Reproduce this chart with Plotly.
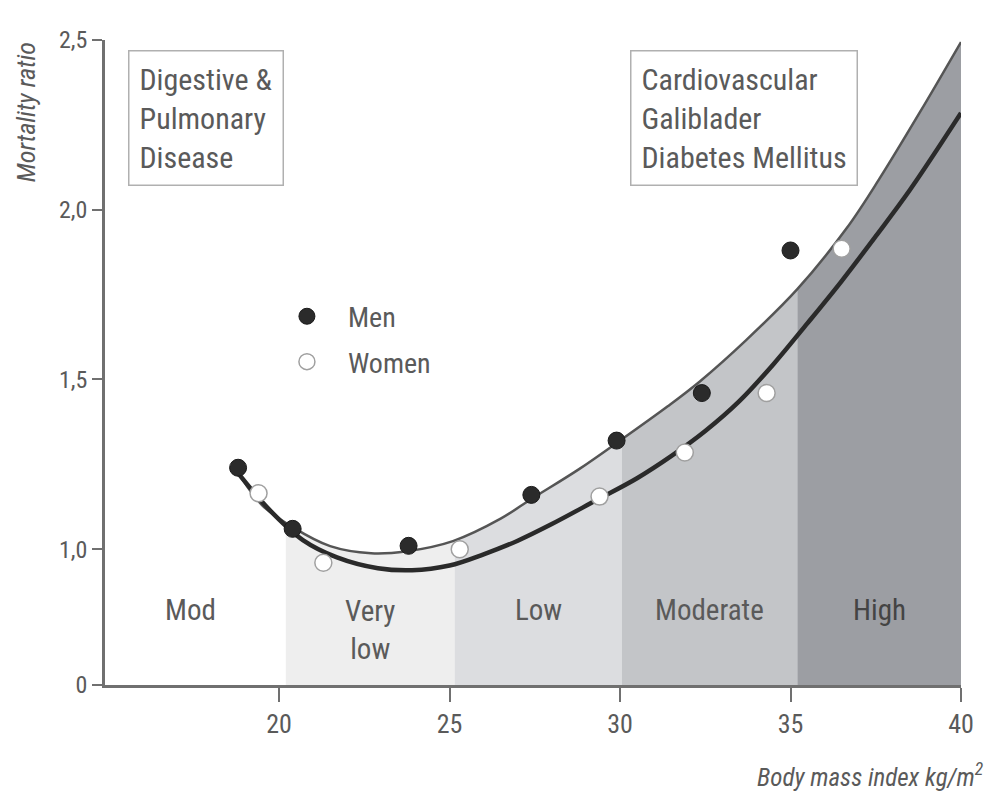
import plotly.graph_objects as go

# ---------------- data ----------------
men_bmi = [18.8, 20.4, 23.8, 27.4, 29.9, 32.4, 35.0]
men_ratio = [1.24, 1.06, 1.01, 1.16, 1.32, 1.46, 1.88]
women_bmi = [19.4, 21.3, 25.3, 29.4, 31.9, 34.3, 36.5]
women_ratio = [1.165, 0.96, 1.00, 1.155, 1.285, 1.46, 1.885]

# fitted curves (upper = men, lower = women)
men_fit_bmi = [18.7, 19.5, 20.4, 21.5, 22.7, 23.75, 25.1, 26.5, 27.4, 28.8,
               30.0, 31.4, 32.35, 33.7, 35.2, 36.65, 37.6, 38.8, 40.0]
men_fit_ratio = [1.242, 1.130, 1.065, 1.009, 0.988, 0.994, 1.024, 1.090, 1.148, 1.236,
                 1.320, 1.421, 1.495, 1.616, 1.766, 1.946, 2.090, 2.288, 2.494]
women_fit_bmi = [18.8, 19.7, 20.7, 21.7, 22.9, 23.9, 25.0, 26.0, 27.0, 28.0, 29.3,
                 30.5, 31.5, 32.5, 33.5, 34.5, 35.5, 36.5, 37.5, 38.5, 40.0]
women_fit_ratio = [1.224, 1.118, 1.027, 0.976, 0.944, 0.938, 0.952, 0.985, 1.025, 1.074, 1.144,
                   1.209, 1.274, 1.348, 1.436, 1.545, 1.666, 1.790, 1.922, 2.058, 2.285]

# risk zones
zone_edges = [20.2, 25.15, 30.05, 35.2, 40.0]
zone_names = ["Very<br>low", "Low", "Moderate", "High"]
zone_colors = ["#eeeeee", "#dcdde0", "#c3c5c8", "#9c9ea3"]
mod_label = "Mod"
mod_label_bmi = 17.4

# axis (the y axis is broken below 1.0: "0" sits at the axis break)
x_tick_vals = [20, 25, 30, 35, 40]
x_tick_text = ["20", "25", "30", "35", "40"]
y_tick_vals = [0.6, 1.0, 1.5, 2.0, 2.5]
y_tick_text = ["0", "1,0", "1,5", "2,0", "2,5"]
x_range = [14.897, 40.0]
y_range = [0.6, 2.5]

FONT = "Liberation Sans Narrow, Roboto Condensed, Arial Narrow, Roboto, sans-serif"
TXT = "#5a5a5a"

fig = go.Figure()

# white cover above the upper curve (zones only fill up to the upper curve)
fig.add_trace(go.Scatter(x=men_fit_bmi, y=[2.8] * len(men_fit_bmi), mode="lines",
                         line=dict(width=0, shape="spline", color="white"),
                         hoverinfo="skip", showlegend=False))
fig.add_trace(go.Scatter(x=men_fit_bmi, y=men_fit_ratio, mode="lines", fill="tonexty",
                         fillcolor="white",
                         line=dict(width=2.5, shape="spline", smoothing=1, color="#555555"),
                         hoverinfo="skip", showlegend=False))
# lower thick curve
fig.add_trace(go.Scatter(x=women_fit_bmi, y=women_fit_ratio, mode="lines",
                         line=dict(width=4.5, shape="spline", smoothing=1, color="#2a2a2a"),
                         hoverinfo="skip", showlegend=False))

# points
fig.add_trace(go.Scatter(x=men_bmi, y=men_ratio, mode="markers", name="Men",
                         legendgroup="m",
                         marker=dict(size=17, color="#2b2b2b", line=dict(width=1, color="#1a1a1a"))))
fig.add_trace(go.Scatter(x=women_bmi, y=women_ratio, mode="markers", name="Women",
                         legendgroup="w",
                         marker=dict(size=17, color="white", line=dict(width=1.5, color="#a0a0a0"))))

shapes = []
for i, c in enumerate(zone_colors):
    shapes.append(dict(type="rect", xref="x", yref="y", x0=zone_edges[i], x1=zone_edges[i + 1],
                       y0=y_range[0], y1=y_range[1], fillcolor=c, line=dict(width=0), layer="below"))

annotations = []
for i, name in enumerate(zone_names):
    mid = (zone_edges[i] + zone_edges[i + 1]) / 2
    annotations.append(dict(x=mid, y=0.82, xref="x", yref="y", text=name, showarrow=False,
                            yanchor="top" if "<br>" in name else "middle",
                            yshift=18 if "<br>" in name else 0,
                            font=dict(family=FONT, size=29, color="#444444" if name == "High" else TXT)))
annotations.append(dict(x=mod_label_bmi, y=0.82, xref="x", yref="y", text=mod_label, showarrow=False,
                        font=dict(family=FONT, size=29, color=TXT)))

# disease boxes
annotations.append(dict(x=0.027, y=0.985, xref="paper", yref="paper", xanchor="left", yanchor="top",
                        text="Digestive &<br>Pulmonary<br>Disease", align="left", showarrow=False,
                        bordercolor="#b0b0b0", borderwidth=1.5, borderpad=10,
                        font=dict(family=FONT, size=30, color=TXT)))
annotations.append(dict(x=0.613, y=0.985, xref="paper", yref="paper", xanchor="left", yanchor="top",
                        text="Cardiovascular<br>Galiblader<br>Diabetes Mellitus", align="left",
                        showarrow=False, bordercolor="#b0b0b0", borderwidth=1.5, borderpad=10,
                        font=dict(family=FONT, size=30, color=TXT)))

# axis titles
annotations.append(dict(x=-0.092, y=1.0, xref="paper", yref="paper", xanchor="center", yanchor="top",
                        text="<i>Mortality ratio</i>", textangle=-90, showarrow=False,
                        font=dict(family=FONT, size=26, color=TXT)))
annotations.append(dict(x=1.028, y=-0.14, xref="paper", yref="paper", xanchor="right", yanchor="middle",
                        text="<i>Body mass index kg/m<sup>2</sup></i>", showarrow=False,
                        font=dict(family=FONT, size=25, color=TXT)))

fig.update_layout(
    width=986, height=791,
    margin=dict(l=97, r=33, t=32, b=114),
    paper_bgcolor="white", plot_bgcolor="white",
    shapes=shapes, annotations=annotations,
    showlegend=True,
    legend=dict(x=0.188, y=0.61, xanchor="left", yanchor="top", bgcolor="rgba(0,0,0,0)",
                font=dict(family=FONT, size=28, color=TXT), tracegroupgap=6,
                itemsizing="trace", itemwidth=72),
    xaxis=dict(range=x_range, tickvals=x_tick_vals, ticktext=x_tick_text,
               showline=True, linecolor="#707070", linewidth=2.5, ticks="outside",
               ticklen=14, tickwidth=1.5, tickcolor="#707070", showgrid=False, zeroline=False,
               tickfont=dict(family=FONT, size=26, color=TXT)),
    yaxis=dict(range=y_range, tickvals=y_tick_vals, ticktext=y_tick_text,
               showline=True, linecolor="#707070", linewidth=2.5, ticks="outside",
               ticklen=10, tickwidth=1.5, tickcolor="#707070", showgrid=False, zeroline=False,
               tickfont=dict(family=FONT, size=24, color=TXT)),
)

fig.write_html("out.html")
